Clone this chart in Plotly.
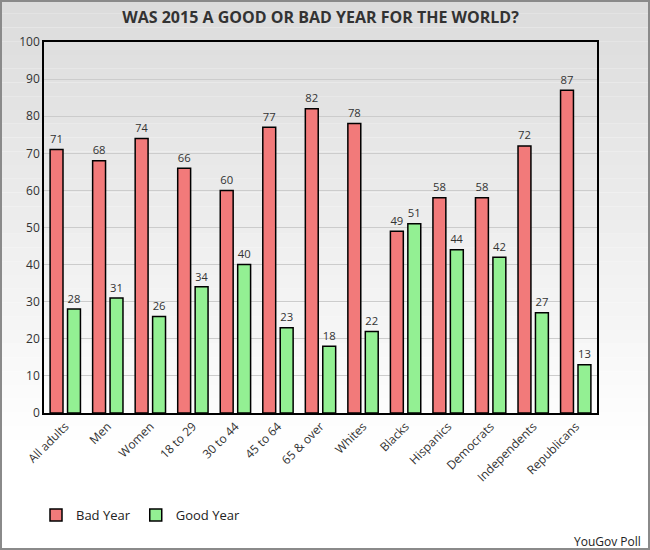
import plotly.graph_objects as go

categories = [
    "All adults", "Men", "Women", "18 to 29", "30 to 44", "45 to 64",
    "65 & over", "Whites", "Blacks", "Hispanics", "Democrats",
    "Independents", "Republicans",
]
bad_year = [71, 68, 74, 66, 60, 77, 82, 78, 49, 58, 58, 72, 87]
good_year = [28, 31, 26, 34, 40, 23, 18, 22, 51, 44, 42, 27, 13]

W, H = 650, 550
L, R, T, B = 44, 53, 42, 137
pw, ph = W - L - R, H - T - B


def py(px_y):
    # page pixel row -> paper y
    return (H - B - px_y) / ph


def px(px_x):
    # page pixel column -> paper x
    return (px_x - L) / pw


fig = go.Figure()
fig.add_trace(go.Bar(
    name="Bad Year", x=categories, y=bad_year, text=bad_year,
    textposition="outside", cliponaxis=False,
    marker=dict(color="#f27a7a", line=dict(color="black", width=1.5)),
))
fig.add_trace(go.Bar(
    name="Good Year", x=categories, y=good_year, text=good_year,
    textposition="outside", cliponaxis=False,
    marker=dict(color="#93f093", line=dict(color="black", width=1.5)),
))
fig.update_traces(textfont=dict(size=13, color="#333333"))

# page background: grey-to-white gradient built from strips
x0, x1 = px(0), px(W)
ytop, ybot = py(0), py(H)
shapes = []
n = 40
for i in range(n):
    ya = ytop - (ytop - ybot) * i / n
    yb = ytop - (ytop - ybot) * (i + 1) / n
    t = min(1.0, i / (n * 0.78))
    g = int(220 + (255 - 220) * t)
    shapes.append(dict(
        type="rect", xref="paper", yref="paper", x0=x0, x1=x1, y0=yb, y1=ya,
        fillcolor=f"rgb({g},{g},{g})", line=dict(width=0), layer="below",
    ))
shapes.append(dict(
    type="rect", xref="paper", yref="paper", x0=px(1), x1=px(W - 1),
    y0=py(H - 1), y1=py(1),
    line=dict(color="#8a8a8a", width=2), fillcolor="rgba(0,0,0,0)",
))

fig.update_layout(
    width=W, height=H,
    margin=dict(l=L, r=R, t=T, b=B),
    paper_bgcolor="white", plot_bgcolor="rgba(0,0,0,0)",
    font=dict(family="Open Sans", size=12, color="#333333"),
    title=dict(
        text="<b>WAS 2015 A GOOD OR BAD YEAR FOR THE WORLD?</b>",
        x=0.5, xref="paper", xanchor="center", y=1 - 17 / H, yanchor="middle",
        font=dict(size=16, color="#333333"),
    ),
    barmode="group", bargap=0.18, bargroupgap=0.26,
    showlegend=True,
    legend=dict(
        orientation="h", x=px(36), xanchor="left", y=py(515),
        yanchor="middle", font=dict(size=13, color="#222222"),
        bgcolor="rgba(0,0,0,0)", itemwidth=30,
    ),
    shapes=shapes,
    annotations=[dict(
        text="YouGov Poll", xref="paper", yref="paper",
        x=px(643), y=py(541), xanchor="right", yanchor="middle",
        showarrow=False, font=dict(size=12, color="#222222"),
    )],
)
fig.update_xaxes(
    tickangle=-45, showline=True, linecolor="black", linewidth=1.5,
    mirror=True, ticks="", tickfont=dict(size=12, color="#333333"),
)
fig.update_yaxes(
    range=[0, 100], dtick=10, showgrid=True, gridcolor="#cccccc",
    showline=True, linecolor="black", linewidth=1.5, mirror=True,
    zeroline=False, tickfont=dict(size=12, color="#333333"),
)

fig.write_html(
    "out.html",
    config={"displayModeBar": False},
    post_script="document.body.style.margin='0';",
)
